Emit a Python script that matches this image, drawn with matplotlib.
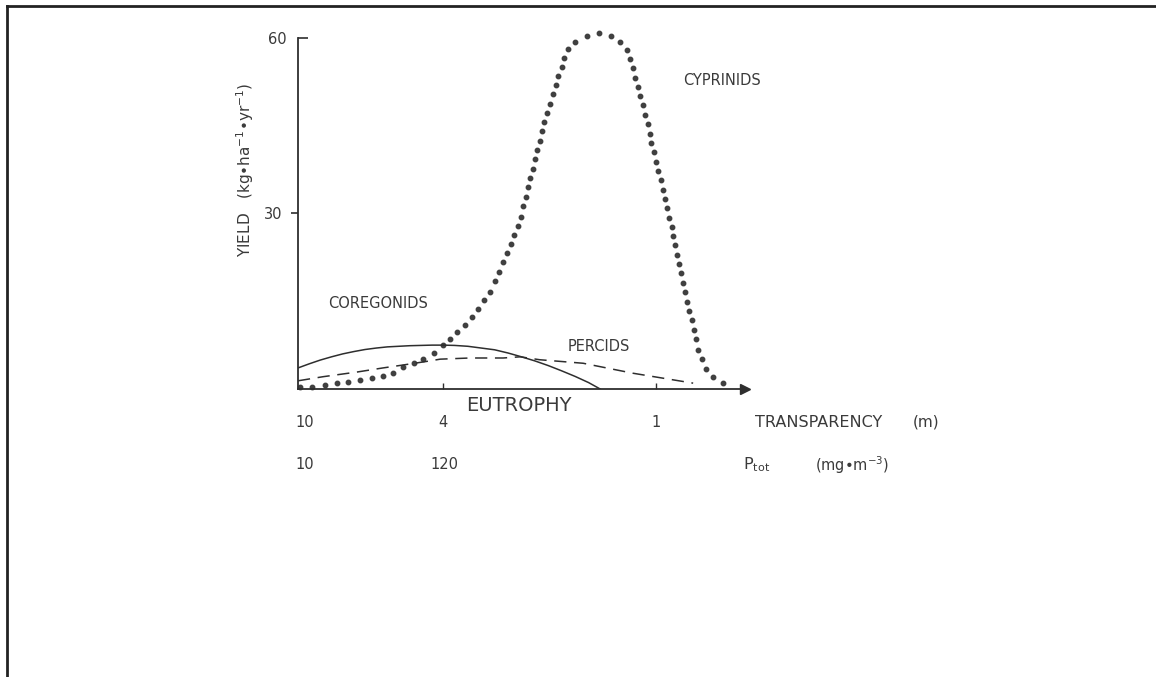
import matplotlib.pyplot as plt
from matplotlib.lines import Line2D

# trophic gradient position (0 = oligotrophic end, 100 = arrow tip), yield in kg/ha/yr
cyprinid_x = [0.4, 3.1, 6.0, 8.7, 11.2, 13.9, 16.6, 19.0, 21.3, 23.5, 26.0, 28.0,
              30.4, 32.4, 34.0, 35.6, 37.4, 38.9, 40.3, 41.6, 43.0, 44.1, 45.0,
              45.9, 46.8, 47.7, 48.3, 49.2, 49.9, 50.3, 51.0, 51.5, 51.9, 52.6,
              53.0, 53.5, 54.1, 54.6, 55.0, 55.7, 56.4, 57.0, 57.7, 58.2, 59.1,
              59.5, 60.4, 62.0, 64.7, 67.3, 70.0, 72.0, 73.6, 74.3, 74.9, 75.4,
              76.1, 76.5, 77.2, 77.6, 78.3, 78.7, 79.0, 79.6, 80.1, 80.5, 81.2,
              81.7, 82.1, 82.6, 83.0, 83.7, 83.9, 84.3, 84.8, 85.2, 85.7, 86.1,
              86.6, 87.0, 87.5, 88.1, 88.6, 89.0, 89.5, 90.4, 91.3, 92.8, 95.1]
cyprinid_y = [0.3, 0.3, 0.7, 1.0, 1.2, 1.5, 1.9, 2.2, 2.7, 3.8, 4.4, 5.1,
              6.2, 7.5, 8.6, 9.7, 10.9, 12.3, 13.7, 15.2, 16.6, 18.5, 20.0,
              21.7, 23.2, 24.8, 26.3, 27.9, 29.4, 31.3, 32.8, 34.5, 36.1, 37.6,
              39.3, 40.9, 42.4, 44.1, 45.6, 47.2, 48.7, 50.4, 52.0, 53.5, 55.0,
              56.6, 58.1, 59.3, 60.3, 60.9, 60.3, 59.3, 57.9, 56.4, 54.9, 53.2,
              51.6, 50.1, 48.5, 46.8, 45.3, 43.6, 42.1, 40.5, 38.8, 37.3, 35.7,
              34.0, 32.5, 30.9, 29.2, 27.7, 26.2, 24.6, 22.9, 21.4, 19.8, 18.1,
              16.6, 14.9, 13.3, 11.8, 10.1, 8.5, 6.7, 5.1, 3.4, 2.1, 1.0]

coregonid_x = [0, 2.5, 5, 7.5, 10, 12.5, 15, 17.5, 20, 25, 30, 32.4, 35, 38,
               41, 44, 47, 50, 53, 56, 59, 62, 65, 67.6]
coregonid_y = [3.6, 4.3, 4.95, 5.5, 6.0, 6.4, 6.75, 7.0, 7.2, 7.4, 7.5, 7.5,
               7.45, 7.3, 7.0, 6.7, 6.15, 5.5, 4.8, 4.0, 3.1, 2.15, 1.1, 0.0]

percid_x = [0, 5.6, 13.2, 19.0, 23.5, 29.5, 31.8, 38.5, 45.9, 49.7, 54.1,
            63.8, 74.9, 88.4]
percid_y = [1.4, 2.1, 2.9, 3.6, 4.1, 4.8, 5.1, 5.3, 5.3, 5.5, 5.0,
            4.4, 2.7, 1.0]

tick_pos = [32.4, 80.1]
transparency_pos = [1.6, 32.4, 80.1]
transparency_labels = ['10', '4', '1']
ptot_pos = [1.6, 32.7]
ptot_labels = ['10', '120']

ink = '#2e2e2e'
txt = '#3a3a3a'

fig = plt.figure(figsize=(11.56, 6.77), dpi=100)
ax = fig.add_axes([298 / 1156, 288 / 677, 447 / 1156, 359.8 / 677])
ax.set_xlim(0, 100)
ax.set_ylim(0, 61.5)

ax.plot(cyprinid_x, cyprinid_y, linestyle='none', marker='o', markersize=3.2,
        color='#404040', clip_on=False)
ax.plot(coregonid_x, coregonid_y, color=ink, linewidth=1.1)
ax.plot(percid_x, percid_y, color=ink, linewidth=1.1, linestyle=(0, (8, 5)))

for side in ['top', 'right']:
    ax.spines[side].set_visible(False)
ax.spines['left'].set_bounds(0, 60)
ax.spines['left'].set_color(ink)
ax.spines['bottom'].set_color(ink)
ax.spines['left'].set_linewidth(1.3)
ax.spines['bottom'].set_linewidth(1.3)
ax.plot(1, 0, marker='>', markersize=7, color=ink,
        transform=ax.get_yaxis_transform(), clip_on=False)

ax.set_yticks([30], labels=['30'])
ax.set_yticks([60], labels=['60'], minor=True)
ax.tick_params(axis='y', which='major', direction='out', length=5, width=1.2,
               pad=6, labelsize=10.5, labelcolor=txt, color=ink)
ax.tick_params(axis='y', which='minor', direction='in', length=7, width=1.2,
               pad=8, labelsize=10.5, labelcolor=txt, color=ink)
ax.set_xticks(tick_pos, labels=['', ''])
ax.tick_params(axis='x', direction='in', length=4, width=1.0, color=ink)

ax.text(-0.118, 0.61, 'YIELD   (kg•ha$^{-1}$•yr$^{-1}$)', transform=ax.transAxes,
        rotation=90, ha='center', va='center', fontsize=11, color=txt)

ax.text(17.9, 14.6, 'COREGONIDS', ha='center', va='center', fontsize=10.5, color=txt)
ax.text(67.3, 7.2, 'PERCIDS', ha='center', va='center', fontsize=10.5, color=txt)
ax.text(94.8, 52.8, 'CYPRINIDS', ha='center', va='center', fontsize=10.5, color=txt)

xt = ax.get_xaxis_transform()
ax.text(49.5, -0.045, 'EUTROPHY', transform=xt, ha='center', va='center',
        fontsize=14, color=txt)
for p, lab in zip(transparency_pos, transparency_labels):
    ax.text(p, -0.092, lab, transform=xt, ha='center', va='center',
            fontsize=10.5, color=txt)
for p, lab in zip(ptot_pos, ptot_labels):
    ax.text(p, -0.211, lab, transform=xt, ha='center', va='center',
            fontsize=10.5, color=txt)
ax.text(116.5, -0.092, 'TRANSPARENCY', transform=xt, ha='center', va='center',
        fontsize=11.5, color=txt, clip_on=False)
ax.text(140.5, -0.092, '(m)', transform=xt, ha='center', va='center',
        fontsize=11, color=txt, clip_on=False)
ax.text(102.5, -0.211, 'P$_{\\mathregular{tot}}$', transform=xt, ha='center',
        va='center', fontsize=11.5, color=txt, clip_on=False)
ax.text(123.9, -0.211, '(mg•m$^{-3}$)', transform=xt, ha='center', va='center',
        fontsize=10.5, color=txt, clip_on=False)

# scanned page border
fig.add_artist(Line2D([7 / 1156, 1], [1 - 6 / 677, 1 - 6 / 677], color='#222222',
                      linewidth=2.0, transform=fig.transFigure))
fig.add_artist(Line2D([7 / 1156, 7 / 1156], [0, 1 - 6 / 677], color='#222222',
                      linewidth=2.0, transform=fig.transFigure))

fig.savefig('out.png', dpi=100)
